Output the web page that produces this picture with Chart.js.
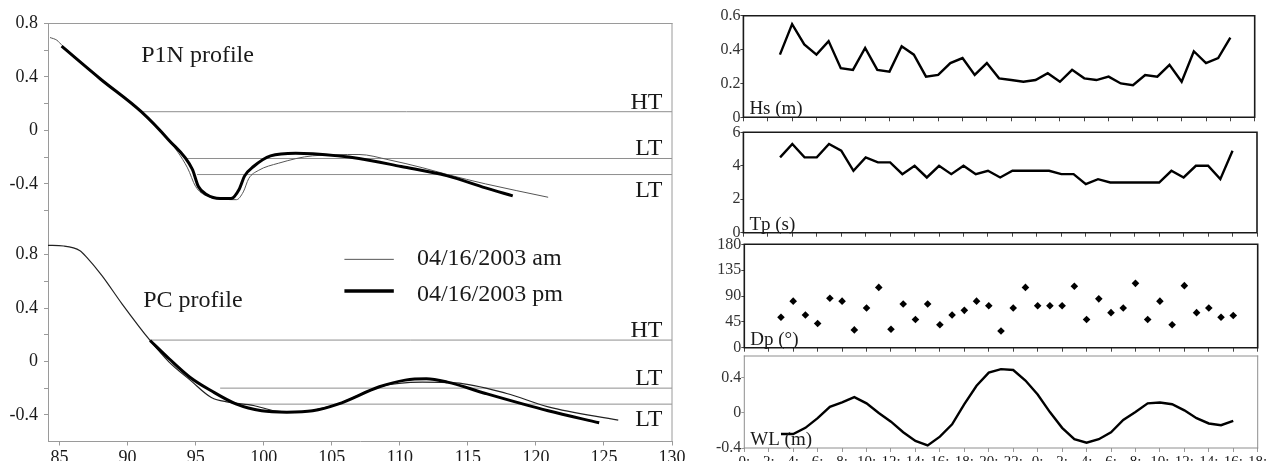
<!DOCTYPE html>
<html>
<head>
<meta charset="utf-8">
<script src="https://cdn.jsdelivr.net/npm/chart.js@4.4.1/dist/chart.umd.min.js"></script>
<style>
  html, body { margin: 0; padding: 0; background: #fff; }
  #wrap { position: relative; width: 1267px; height: 461px; overflow: hidden; }
  canvas { position: absolute; }
</style>
</head>
<body>
<div id="wrap">
  <canvas id="p1n" width="690" height="228" style="left:0;top:0"></canvas>
  <canvas id="pc" width="690" height="233" style="left:0;top:228px"></canvas>
  <canvas id="hs" width="577" height="124" style="left:690px;top:0"></canvas>
  <canvas id="tp" width="577" height="116" style="left:690px;top:124px"></canvas>
  <canvas id="dp" width="577" height="118" style="left:690px;top:236px"></canvas>
  <canvas id="wl" width="577" height="113" style="left:690px;top:348px"></canvas>
</div>
<script>
// ---- beach profiles: cross-shore distance (m) / elevation (m) ----
const p1nAmX = [84.3, 84.8, 85.2, 88.0, 91.0, 93.0, 94.4, 95.0, 95.8, 97.1, 98.0, 98.5, 98.9, 99.6, 101.1, 103.6, 107.0, 109.2, 111.7, 113.5, 116.3, 120.9];
const p1nAmZ = [0.695, 0.675, 0.635, 0.39, 0.14, -0.07, -0.28, -0.42, -0.49, -0.515, -0.518, -0.46, -0.36, -0.30, -0.245, -0.19, -0.18, -0.22, -0.28, -0.33, -0.40, -0.50];
const p1nPmX = [85.15, 88.0, 91.0, 93.0, 94.75, 95.2, 95.8, 96.8, 97.6, 98.2, 98.6, 99.25, 100.5, 102.35, 103.6, 107.0, 110.1, 113.5, 116.3, 118.3];
const p1nPmZ = [0.63, 0.385, 0.14, -0.07, -0.29, -0.42, -0.48, -0.51, -0.51, -0.44, -0.34, -0.27, -0.19, -0.17, -0.175, -0.21, -0.27, -0.34, -0.43, -0.49];

const pcAmX = [84.15, 85.3, 86.5, 87.0, 88.1, 89.6, 91.65, 93.05, 94.6, 96.15, 97.4, 99.25, 100.8, 102.35, 103.9, 105.45, 108.5, 111.65, 114.1, 117.85, 120.9, 126.05];
const pcAmZ = [0.87, 0.865, 0.83, 0.78, 0.645, 0.43, 0.157, -0.005, -0.14, -0.27, -0.305, -0.33, -0.37, -0.38, -0.36, -0.32, -0.19, -0.155, -0.16, -0.24, -0.34, -0.44];
const pcPmX = [91.65, 93.05, 94.6, 96.15, 98.0, 99.85, 101.7, 103.6, 105.45, 108.5, 110.4, 111.95, 113.5, 116.3, 120.9, 124.65];
const pcPmZ = [0.157, 0.02, -0.12, -0.22, -0.32, -0.37, -0.38, -0.37, -0.32, -0.19, -0.14, -0.13, -0.155, -0.24, -0.37, -0.46];

// tide levels (HT, LT, LT) and where each line meets the profile
const levelNames = ['HT', 'LT', 'LT'];
const p1nLevelZ = [0.14, -0.21, -0.33];
const p1nLevelFrom = [91.0, 94.3, 95.1];
const pcLevelZ = [0.16, -0.20, -0.32];
const pcLevelFrom = [91.6, 96.8, 97.9];

const distTicks = [85, 90, 95, 100, 105, 110, 115, 120, 125, 130];
const distTickLabels = ['85', '90', '95', '100', '105', '110', '115', '120', '125', '130'];
const p1nTicks = [0.8, 0.6, 0.4, 0.2, 0, -0.2, -0.4, -0.6];
const p1nTickLabels = ['0.8', '', '0.4', '', '0', '', '-0.4', ''];
const pcTicks = [0.8, 0.6, 0.4, 0.2, 0, -0.2, -0.4];
const pcTickLabels = ['0.8', '', '0.4', '', '0', '', '-0.4'];
const legendNames = ['04/16/2003 am', '04/16/2003 pm'];

// ---- hourly wave / water level record ----
const hours = [3, 4, 5, 6, 7, 8, 9, 10, 11, 12, 13, 14, 15, 16, 17, 18, 19, 20, 21, 22, 23, 24, 25, 26, 27, 28, 29, 30, 31, 32, 33, 34, 35, 36, 37, 38, 39, 40];
const hs = [0.37, 0.55, 0.43, 0.37, 0.45, 0.29, 0.28, 0.41, 0.28, 0.27, 0.42, 0.37, 0.24, 0.25, 0.32, 0.35, 0.25, 0.32, 0.23, 0.22, 0.21, 0.22, 0.26, 0.21, 0.28, 0.23, 0.22, 0.24, 0.20, 0.19, 0.25, 0.24, 0.31, 0.21, 0.39, 0.32, 0.35, 0.47];
const tp = [4.5, 5.3, 4.5, 4.5, 5.3, 4.9, 3.7, 4.5, 4.2, 4.2, 3.5, 4.0, 3.3, 4.0, 3.5, 4.0, 3.5, 3.7, 3.3, 3.7, 3.7, 3.7, 3.7, 3.5, 3.5, 2.9, 3.2, 3.0, 3.0, 3.0, 3.0, 3.0, 3.7, 3.3, 4.0, 4.0, 3.2, 4.9];
const dp = [53, 81, 57, 42, 86, 81, 31, 69, 105, 32, 76, 49, 76, 40, 57, 65, 81, 73, 29, 69, 105, 73, 73, 73, 107, 49, 85, 61, 69, 112, 49, 81, 40, 108, 61, 69, 53, 56];
const wl = [-0.24, -0.24, -0.17, -0.06, 0.07, 0.12, 0.18, 0.11, 0.0, -0.10, -0.22, -0.32, -0.37, -0.27, -0.13, 0.10, 0.31, 0.46, 0.50, 0.49, 0.37, 0.21, 0.01, -0.17, -0.30, -0.34, -0.30, -0.22, -0.08, 0.01, 0.11, 0.12, 0.10, 0.03, -0.06, -0.12, -0.14, -0.09];

const hourTicks = [0, 2, 4, 6, 8, 10, 12, 14, 16, 18, 20, 22, 24, 26, 28, 30, 32, 34, 36, 38, 40, 42];
const hourLabels = ['0:', '2:', '4:', '6:', '8:', '10:', '12:', '14:', '16:', '18:', '20:', '22:', '0:', '2:', '4:', '6:', '8:', '10:', '12:', '14:', '16:', '18:'];
const hsTicks = [0, 0.1, 0.2, 0.3, 0.4, 0.5, 0.6];
const hsTickLabels = ['0', '', '0.2', '', '0.4', '', '0.6'];
const tpTicks = [0, 1, 2, 3, 4, 5, 6];
const tpTickLabels = ['0', '', '2', '', '4', '', '6'];
const dpTicks = [0, 45, 90, 135, 180];
const dpTickLabels = ['0', '45', '90', '135', '180'];
const wlTicks = [-0.4, -0.2, 0, 0.2, 0.4, 0.6];
const wlTickLabels = ['-0.4', '', '0', '', '0.4', ''];

const serif = "'Liberation Serif', 'Times New Roman', serif";
Chart.defaults.font.family = serif;
Chart.defaults.color = '#1a1a1a';
Chart.defaults.animation = false;
Chart.defaults.plugins.legend.display = false;
Chart.defaults.plugins.tooltip.enabled = false;

const pts = (xs, ys) => xs.map((x, i) => ({ x: x, y: ys[i] }));

// outline of the plot box on the chosen sides
function frame(sides, color, width) {
  return {
    id: 'frame',
    afterDatasetsDraw(chart) {
      const a = chart.chartArea, ctx = chart.ctx;
      ctx.save();
      ctx.strokeStyle = color;
      ctx.lineWidth = width;
      ctx.lineCap = 'square';
      ctx.beginPath();
      if (sides.includes('top')) { ctx.moveTo(a.left, a.top); ctx.lineTo(a.right, a.top); }
      if (sides.includes('right')) { ctx.moveTo(a.right, a.top); ctx.lineTo(a.right, a.bottom); }
      if (sides.includes('bottom')) { ctx.moveTo(a.left, a.bottom); ctx.lineTo(a.right, a.bottom); }
      if (sides.includes('left')) { ctx.moveTo(a.left, a.top); ctx.lineTo(a.left, a.bottom); }
      ctx.stroke();
      ctx.restore();
    }
  };
}

// free text: draw(ctx, chart) gets called after everything else
function notes(draw) {
  return { id: 'notes', afterDraw(chart) { const ctx = chart.ctx; ctx.save(); draw(ctx, chart); ctx.restore(); } };
}

function fixedTicks(values) {
  return (axis) => { axis.ticks = values.map(v => ({ value: v })); };
}

function levelSets(levelZ, levelFrom) {
  return levelZ.map((z, i) => ({
    data: [{ x: levelFrom[i], y: z }, { x: 130, y: z }],
    borderColor: '#8e8e8e', borderWidth: 1, pointRadius: 0
  }));
}

function tideLabels(ctx, chart, levelZ) {
  const x = chart.scales.x.getPixelForValue(129.3);
  ctx.font = '24px ' + serif;
  ctx.fillStyle = '#1a1a1a';
  ctx.textAlign = 'right';
  ctx.textBaseline = 'alphabetic';
  levelZ.forEach((z, i) => {
    const y = chart.scales.y.getPixelForValue(z);
    ctx.fillText(levelNames[i], x, i === 2 ? y + 22 : y - 3);
  });
}

const grey = '#9a9a9a';

function profileOptions(yMin, yMax, yTicks, yTickLabels, showX, padTop) {
  return {
    responsive: false,
    layout: { padding: { left: 0, right: 18, top: padTop, bottom: 0 } },
    scales: {
      x: {
        type: 'linear', min: 84.15, max: 130, display: showX,
        afterBuildTicks: fixedTicks(distTicks),
        afterFit: (axis) => { axis.height = showX ? 19.5 : 0; axis.paddingLeft = 0; axis.paddingRight = 0; },
        grid: { drawOnChartArea: false, drawTicks: true, tickLength: 4, color: grey },
        border: { display: true, color: grey, width: 1 },
        ticks: { autoSkip: false, maxRotation: 0, padding: 2, font: { size: 18 }, callback: (v, i) => distTickLabels[i] }
      },
      y: {
        type: 'linear', min: yMin, max: yMax,
        afterBuildTicks: fixedTicks(yTicks),
        afterFit: (axis) => { axis.width = 48; axis.paddingTop = 0; axis.paddingBottom = 0; },
        grid: { drawOnChartArea: false, drawTicks: true, tickLength: 4, color: grey },
        border: { display: true, color: grey, width: 1 },
        ticks: { padding: 6, font: { size: 18 }, callback: (v, i) => yTickLabels[i] }
      }
    }
  };
}

// P1N profile (upper left)
new Chart(document.getElementById('p1n'), {
  type: 'line',
  data: {
    datasets: [
      { data: pts(p1nPmX, p1nPmZ), borderColor: '#000', borderWidth: 3, pointRadius: 0, cubicInterpolationMode: 'monotone' },
      { data: pts(p1nAmX, p1nAmZ), borderColor: '#555', borderWidth: 1, pointRadius: 0, cubicInterpolationMode: 'monotone' }
    ].concat(levelSets(p1nLevelZ, p1nLevelFrom))
  },
  options: profileOptions(-0.73, 0.8, p1nTicks, p1nTickLabels, false, 23.5),
  plugins: [
    frame(['top', 'right'], grey, 1),
    notes((ctx, chart) => {
      tideLabels(ctx, chart, p1nLevelZ);
      ctx.textAlign = 'left';
      ctx.fillText('P1N profile', chart.scales.x.getPixelForValue(91.0), chart.scales.y.getPixelForValue(0.514));
    })
  ]
});

// PC profile (lower left) with the legend
new Chart(document.getElementById('pc'), {
  type: 'line',
  data: {
    datasets: [
      { data: pts(pcPmX, pcPmZ), borderColor: '#000', borderWidth: 3, pointRadius: 0, cubicInterpolationMode: 'monotone' },
      { data: pts(pcAmX, pcAmZ), borderColor: '#222', borderWidth: 1.2, pointRadius: 0, cubicInterpolationMode: 'monotone' }
    ].concat(levelSets(pcLevelZ, pcLevelFrom))
  },
  options: profileOptions(-0.6, 1.0, pcTicks, pcTickLabels, true, 0),
  plugins: [
    frame(['right'], grey, 1),
    notes((ctx, chart) => {
      const sx = chart.scales.x, sy = chart.scales.y;
      tideLabels(ctx, chart, pcLevelZ);
      ctx.textAlign = 'left';
      ctx.fillText('PC profile', sx.getPixelForValue(91.15), sy.getPixelForValue(0.41));
      // legend
      const x0 = sx.getPixelForValue(105.93), x1 = sx.getPixelForValue(109.56), tx = sx.getPixelForValue(111.26);
      ctx.strokeStyle = '#555'; ctx.lineWidth = 1;
      ctx.beginPath(); ctx.moveTo(x0, sy.getPixelForValue(0.765)); ctx.lineTo(x1, sy.getPixelForValue(0.765)); ctx.stroke();
      ctx.strokeStyle = '#000'; ctx.lineWidth = 3.5;
      ctx.beginPath(); ctx.moveTo(x0, sy.getPixelForValue(0.527)); ctx.lineTo(x1, sy.getPixelForValue(0.527)); ctx.stroke();
      ctx.fillText(legendNames[0], tx, sy.getPixelForValue(0.722));
      ctx.fillText(legendNames[1], tx, sy.getPixelForValue(0.455));
    })
  ]
});

// right-hand time series panels
function panel(id, cfg) {
  const dark = cfg.light ? '#8e8e8e' : '#1a1a1a';
  new Chart(document.getElementById(id), {
    type: 'line',
    data: {
      datasets: [cfg.marks ? {
        data: pts(hours, cfg.values), showLine: false, pointStyle: 'rectRot',
        pointRadius: 3.8, backgroundColor: '#000', borderWidth: 0
      } : {
        data: pts(hours, cfg.values), borderColor: '#000', borderWidth: 2.4,
        pointRadius: 0, tension: 0, borderJoinStyle: 'miter'
      }]
    },
    options: {
      responsive: false,
      layout: { padding: { left: 0, right: cfg.padRight, top: cfg.padTop, bottom: 0 } },
      scales: {
        x: {
          type: 'linear', min: 0, max: 42,
          afterBuildTicks: fixedTicks(hourTicks),
          afterFit: (axis) => { axis.height = cfg.xHeight; axis.paddingLeft = 0; axis.paddingRight = 0; },
          grid: { drawOnChartArea: false, drawTicks: true, tickLength: 4, color: cfg.light ? grey : '#444' },
          border: { display: false },
          ticks: {
            display: !!cfg.hourLabels, autoSkip: false, maxRotation: 0, padding: 1,
            font: { size: 15 }, callback: (v, i) => hourLabels[i]
          }
        },
        y: {
          type: 'linear', min: cfg.min, max: cfg.max,
          afterBuildTicks: fixedTicks(cfg.ticks),
          afterFit: (axis) => { axis.width = cfg.yWidth; axis.paddingTop = 0; axis.paddingBottom = 0; },
          grid: { drawOnChartArea: false, drawTicks: true, tickLength: 3, color: cfg.light ? grey : '#444' },
          border: { display: false },
          ticks: { padding: 0, color: '#333', font: { size: 16 }, callback: (v, i) => cfg.tickLabels[i] }
        }
      }
    },
    plugins: [
      frame(['top', 'right', 'bottom', 'left'], dark, cfg.light ? 1 : 1.6),
      notes((ctx, chart) => {
        ctx.font = '19px ' + serif;
        ctx.fillStyle = '#1a1a1a';
        ctx.textAlign = 'left';
        ctx.textBaseline = 'alphabetic';
        ctx.fillText(cfg.title, chart.chartArea.left + 6, chart.chartArea.bottom - 3);
      })
    ]
  });
}

panel('hs', { values: hs, title: 'Hs (m)', min: 0, max: 0.6, ticks: hsTicks, tickLabels: hsTickLabels,
  padTop: 15.7, padRight: 12.3, xHeight: 6.7, yWidth: 53.4 });
panel('tp', { values: tp, title: 'Tp (s)', min: 0, max: 6, ticks: tpTicks, tickLabels: tpTickLabels,
  padTop: 8.3, padRight: 10, xHeight: 7.3, yWidth: 53.4 });
panel('dp', { values: dp, title: 'Dp (°)', min: 0, max: 180, ticks: dpTicks, tickLabels: dpTickLabels, marks: true,
  padTop: 8.3, padRight: 9.3, xHeight: 6.3, yWidth: 54.3 });
panel('wl', { values: wl, title: 'WL (m)', min: -0.4, max: 0.65, ticks: wlTicks, tickLabels: wlTickLabels, light: true,
  hourLabels: true, padTop: 8, padRight: 9.3, xHeight: 13, yWidth: 54.3 });
</script>
</body>
</html>
